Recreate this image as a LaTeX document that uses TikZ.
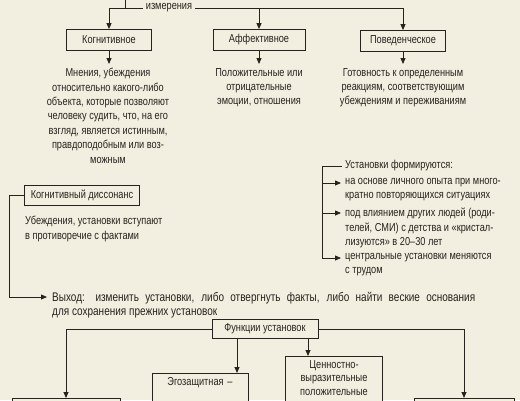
\documentclass[tikz,border=0pt]{standalone}
\usepackage{fontspec}
\setmainfont[FakeStretch=0.8]{Liberation Sans}
\usetikzlibrary{arrows.meta}
\definecolor{paper}{RGB}{243,239,224}
\definecolor{ink}{RGB}{38,34,30}

\begin{document}
\begin{tikzpicture}[x=1pt,y=-1pt,
    every node/.style={font=\fontsize{11.5}{14.4}\selectfont, text=ink},
    box/.style={draw=ink, line width=0.8pt, inner sep=0pt, minimum height=21pt, fill=paper},
    txt/.style={inner sep=0pt, align=center},
    lft/.style={inner sep=0pt, align=left},
    ln/.style={draw=ink, line width=0.8pt},
    arr/.style={ln, -{Triangle[length=6pt,width=5pt]}}]
    \useasboundingbox (0,0) rectangle (520,400);
    \clip (0,0) rectangle (520,400);
    \fill[paper] (0,0) rectangle (520,400);

    % three dimensions
    \coordinate (up) at (125,0);
    \node[fill=paper, inner sep=3pt] (dim) at (169,8) {измерения};
    \node[box, minimum width=85pt] (cog) at (109,40) {Когнитивное};
    \node[box, minimum width=92pt] (aff) at (259,40) {Аффективное};
    \node[box, minimum width=85pt] (beh) at (403,41) {Поведенческое};
    \draw[ln] (up) -- (up |- dim.west);
    \draw[arr] (dim.west) -| (cog);
    \draw[arr] (dim.east) -| (beh);
    \draw[arr] (aff.north |- dim.east) -- (aff);

    \node[txt, anchor=north] (cogtxt) at (108,68) {Мнения, убеждения\\относительно какого-либо\\объекта, которые позволяют\\человеку судить, что, на его\\взгляд, является истинным,\\правдоподобным или воз-\\можным};
    \node[txt, anchor=north] (afftxt) at (259,68) {Положительные или\\отрицательные\\эмоции, отношения};
    \node[txt, anchor=north] (behtxt) at (403,68) {Готовность к определенным\\реакциям, соответствующим\\убеждениям и переживаниям};
    \draw[arr] (cog) -- ([yshift=4pt]cogtxt.north -| cog);
    \draw[arr] (aff) -- ([yshift=4pt]afftxt.north -| aff);
    \draw[arr] (beh) -- ([yshift=4pt]behtxt.north -| beh);

    % dissonance
    \node[box, minimum width=115pt, minimum height=20pt] (diss) at (82,195) {Когнитивный диссонанс};
    \node[lft, anchor=north west] (disstxt) at (25,216) {Убеждения, установки вступают\\в противоречие с фактами};
    \node[inner sep=0pt, anchor=north west, text width=423pt, align=justify,
          font=\fontsize{12.5}{14.4}\selectfont] (out) at (52,292) {Выход: изменить установки, либо отвергнуть факты, либо найти веские основания\linebreak для сохранения прежних установок};
    \draw[arr] (diss.west) -- ++(-15,0) |- ([xshift=-5pt,yshift=-5pt]out.north west);

    % how attitudes form
    \coordinate (brk) at (322,166);
    \node[lft, anchor=west] (fhead) at (345,166) {Установки формируются:};
    \node[lft, anchor=north west] (fitem1) at (345,178) {на основе личного опыта при много-\\кратно повторяющихся ситуациях};
    \node[lft, anchor=north west] (fitem2) at (345,208) {под влиянием других людей (роди-\\телей, СМИ) с детства и «кристал-\\лизуются» в 20--30 лет};
    \node[lft, anchor=north west] (fitem3) at (345,253) {центральные установки меняются\\с трудом};
    \draw[ln] (brk) -- ([xshift=-3pt]fhead.west);
    \draw[arr] (brk) |- ([xshift=-4pt,yshift=-5pt]fitem1.north west);
    \draw[arr] (brk) |- ([xshift=-4pt,yshift=-5pt]fitem2.north west);
    \draw[arr] (brk) |- ([xshift=-4pt,yshift=-5pt]fitem3.north west);

    % functions
    \node[box, minimum width=106pt, minimum height=19pt] (func) at (265,329) {Функции установок};
    \node[box, anchor=north, minimum width=108pt, minimum height=30pt] (f1) at (66,398) {};
    \node[box, anchor=north, text width=96pt, align=center, inner ysep=4pt] (f2) at (200,373) {Эгозащитная --\\ \mbox{}\\ \mbox{}};
    \node[box, anchor=north, text width=97pt, align=center, inner ysep=4pt,
          font=\fontsize{11.5}{13.6}\selectfont] (f3) at (334,356) {Ценностно-\\выразительные\\положительные\\ \mbox{}};
    \node[box, anchor=north, minimum width=100pt, minimum height=30pt] (f4) at (464,398) {};
    \draw[arr] (func.west) -| (f1);
    \draw[arr] (func.east) -| (f4);
    \draw[arr] (func.south -| 237,0) -- (f2.north -| 237,0);
    \draw[arr] (func.south -| 308,0) -- (f3.north -| 308,0);
\end{tikzpicture}
\end{document}
